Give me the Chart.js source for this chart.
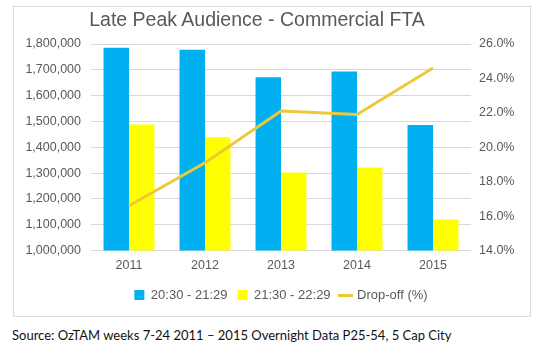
<!DOCTYPE html>
<html>
<head>
<meta charset="utf-8">
<script src="https://cdn.jsdelivr.net/npm/chart.js@4"></script>
<style>
  html, body { margin: 0; padding: 0; background: #fff; width: 539px; height: 360px; overflow: hidden; }
  #frame { position: absolute; left: 13px; top: 6px; width: 516px; height: 309px; border: 1px solid #d9d9d9; }
  #title { position: absolute; left: 0; width: 514px; top: 8px; text-align: center; font: 19.5px "Liberation Sans", Arial, sans-serif; color: #595959; white-space: nowrap; }
  #source { position: absolute; left: 12px; top: 327px; font: 13px Lato, "Liberation Sans", sans-serif; color: #111; white-space: nowrap; }
  canvas { display: block; }
</style>
</head>
<body>
<div id="frame"><canvas id="c" width="516" height="309"></canvas></div>
<div id="title">Late Peak Audience - Commercial FTA</div>
<div id="source">Source: OzTAM weeks 7-24 2011 – 2015 Overnight Data P25-54, 5 Cap City</div>
<script>
const categories = ['2011', '2012', '2013', '2014', '2015'];
const seriesNames = ['20:30 - 21:29', '21:30 - 22:29', 'Drop-off (%)'];
const early = [1785000, 1778000, 1671000, 1693000, 1486000];
const late = [1488000, 1439000, 1302000, 1322000, 1120000];
const dropOff = [16.6, 19.1, 22.1, 21.9, 24.6];

const BLUE = '#00B0F0', YELLOW = '#FFFF00', GOLD = '#EDC83A', TXT = '#595959', GRID = '#d9d9d9';
const FONT = '"Liberation Sans", Arial, sans-serif';

const lineIcon = document.createElement('canvas');
lineIcon.width = 15; lineIcon.height = 3;
const lctx = lineIcon.getContext('2d');
lctx.fillStyle = GOLD; lctx.fillRect(0, 0, 15, 3);

new Chart(document.getElementById('c'), {
  data: {
    labels: categories,
    datasets: [
      { type: 'bar', label: seriesNames[0], data: early, backgroundColor: BLUE, yAxisID: 'y', order: 1, pointStyle: 'rect',
        categoryPercentage: 0.67, barPercentage: 1.0 },
      { type: 'bar', label: seriesNames[1], data: late, backgroundColor: YELLOW, yAxisID: 'y', order: 1, pointStyle: 'rect',
        categoryPercentage: 0.67, barPercentage: 1.0 },
      { type: 'line', label: seriesNames[2], data: dropOff, borderColor: GOLD, backgroundColor: GOLD, borderWidth: 3,
        pointRadius: 0, tension: 0, yAxisID: 'y1', order: 0, pointStyle: lineIcon }
    ]
  },
  options: {
    responsive: false,
    animation: false,
    layout: { padding: { top: 37, bottom: 4.5, left: 0, right: 0 } },
    plugins: {
      title: { display: false },
      tooltip: { enabled: false },
      legend: {
        position: 'bottom',
        fullSize: false,
        labels: {
          usePointStyle: true,
          pointStyleWidth: 10,
          boxHeight: 10,
          padding: 10,
          color: TXT,
          font: { family: FONT, size: 13 },
          sort: (a, b) => a.datasetIndex - b.datasetIndex
        }
      }
    },
    scales: {
      x: {
        grid: { display: false, drawTicks: false },
        border: { display: false },
        ticks: { color: TXT, font: { family: FONT, size: 12.5 }, padding: 7.5 },
        afterFit: s => { s.height = 28; }
      },
      y: {
        position: 'left',
        min: 1000000, max: 1800000,
        grid: { color: GRID, lineWidth: 1, drawTicks: false },
        border: { display: false },
        ticks: { stepSize: 100000, color: TXT, font: { family: FONT, size: 12.5 }, padding: 10,
          callback: v => v.toLocaleString('en-US') },
        afterFit: s => { s.width = 77; }
      },
      y1: {
        position: 'right',
        min: 14, max: 26,
        grid: { display: false, drawTicks: false },
        border: { display: false },
        ticks: { stepSize: 2, color: TXT, font: { family: FONT, size: 12.5 }, padding: 8,
          callback: v => v.toFixed(1) + '%' },
        afterFit: s => { s.width = 59; }
      }
    }
  }
});
</script>
</body>
</html>
